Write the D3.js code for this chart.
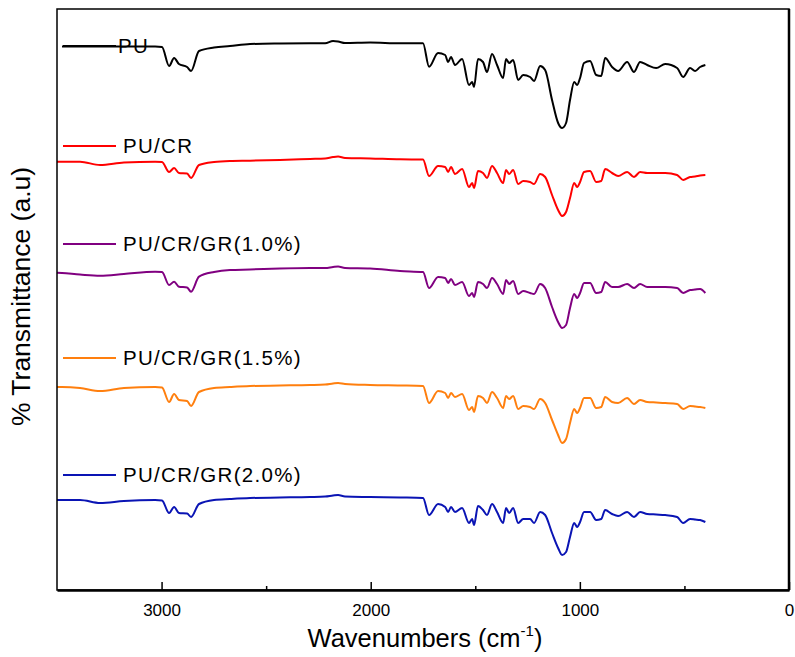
<!DOCTYPE html>
<html>
<head>
<meta charset="utf-8">
<script src="https://cdn.jsdelivr.net/npm/d3@7"></script>
<style>
  body { margin: 0; background: #fff; }
  text { font-family: "Liberation Sans", Arial, sans-serif; }
</style>
</head>
<body>
<script>
// wavenumbers shared by all spectra (cm-1)
var wavenumbers = [3500, 3476, 3390, 3294, 3180, 3031, 2998, 2964, 2940, 2917,
  2878, 2859, 2821, 2749, 2673, 2577, 2434, 2290, 2218, 2180,
  2156, 2123, 2003, 1860, 1750, 1721, 1678, 1644, 1630, 1616,
  1597, 1563, 1530, 1515, 1506, 1487, 1463, 1444, 1420, 1396,
  1367, 1353, 1338, 1319, 1295, 1271, 1238, 1219, 1190, 1166,
  1133, 1104, 1085, 1066, 1047, 1027, 1013, 999, 980, 951,
  922, 898, 879, 846, 817, 774, 741, 712, 678, 635,
  592, 535, 506, 473, 449, 425, 400];

// transmittance, arbitrary units (already stacked)
var pu = [null, 543.5, 543.5, 543.5, 543.5, 543.5, 543, 524, 532, 526,
  523, 519, 539, 542.5, 544, 546, 546.5, 546.7, 546.7, 549,
  548.5, 547, 547.5, 546.7, 546.7, 523.3, 537, 535, 528, 533,
  525, 531, 505, 508, 503, 531, 528, 518, 536, 525,
  512, 531, 527, 530, 510, 515, 513, 509, 524, 520,
  490, 467, 462, 467, 490, 508, 505, 512, 527, 529,
  515, 514, 532, 523, 519, 528, 518, 528, 525, 522,
  526, 522, 513, 522, 519, 523, 525];

var puCr = [428.3, 428.3, 428.3, 425, 427.5, 428.3, 428, 418, 422, 417,
  416.5, 412, 425, 428, 429, 429.3, 430, 431, 431.5, 433,
  433.5, 432, 431.5, 430.7, 430.5, 414, 424, 423, 418, 423,
  416, 421, 403, 407, 402, 419, 417, 412, 424, 417,
  407, 420, 416, 420, 406, 409, 408, 406, 416, 413,
  395, 380, 374, 378, 392, 407, 403, 408, 418, 419,
  408, 409, 421, 417, 414, 418, 413, 418, 417, 417,
  417, 415, 410, 413, 413.5, 414.5, 415];

var puCrGr10 = [317.3, 317, 315.5, 314.3, 316, 318.3, 318, 305, 308.3, 303.3,
  302.5, 298.3, 313.3, 318, 320, 320.5, 321.5, 322, 322, 323,
  323.5, 322, 321.5, 319, 318, 302, 313, 312, 307, 311,
  305, 308, 294, 297, 293, 308, 306, 302, 312, 306,
  296, 310, 306, 309, 296, 299, 297, 296, 306, 302,
  283, 268, 262, 265, 282, 296, 292, 297, 307, 307,
  297, 298, 308, 303, 303, 306, 302, 306, 303, 303,
  303, 302, 297, 300, 300.5, 301, 297];

var puCrGr15 = [203, 203, 202, 199, 202, 203, 202.5, 188, 196, 190,
  189, 184, 198, 202, 203, 204, 204.5, 205, 205.5, 206.5,
  207, 206, 205, 204.5, 204, 187, 199, 197, 192, 197,
  193, 196, 180, 183, 178, 194, 192, 187, 198, 192,
  182, 194, 191, 194, 181, 184, 183, 181, 191, 187,
  170, 155, 147, 151, 167, 181, 177, 182, 192, 192,
  182, 183, 193, 188, 187, 192, 186, 190, 188, 187.5,
  187, 186, 181, 184, 183.5, 183, 182];

var puCrGr20 = [90, 90, 90, 87, 89, 90, 89.5, 77, 83, 77,
  76.5, 73, 86, 90, 91, 92, 92.5, 93, 93.5, 94.5,
  95, 93.5, 93, 92.5, 92, 75, 86, 83, 78, 83,
  78, 82, 67, 71, 65, 84, 80, 75, 86, 78,
  67, 82, 77, 82, 67, 71, 71, 67, 78, 75,
  57, 42, 35, 38, 53, 67, 63, 68, 78, 78,
  70, 71, 80, 76, 74, 78, 73, 78, 76, 75.5,
  75, 73, 67, 71, 70.5, 70, 68];

var seriesNames = ['PU', 'PU/CR', 'PU/CR/GR(1.0%)', 'PU/CR/GR(1.5%)', 'PU/CR/GR(2.0%)'];
var seriesColors = ['#000000', '#ff0000', '#800080', '#ff7f0e', '#0a14b4'];
var seriesValues = [pu, puCr, puCrGr10, puCrGr15, puCrGr20];
// legend key sits at this transmittance level for each series
var legendLevels = [544, 444, 346, 232, 115];

var majorTicks = [3000, 2000, 1000, 0];
var minorTicks = [2500, 1500, 500];

var W = 795, H = 657;
var plotLeft = 57, plotRight = 789, plotTop = 9, plotBottom = 590;

var svg = d3.select('body').append('svg')
  .attr('width', W)
  .attr('height', H);

var x = d3.scaleLinear().domain([3500, 0]).range([plotLeft, plotRight]);
var y = d3.scaleLinear().domain([0, 581]).range([plotBottom, plotTop]);

// SPECTRA
var line = d3.line()
  .defined(function(d) { return d[1] != null; })
  .x(function(d) { return x(d[0]); })
  .y(function(d) { return y(d[1]); })
  .curve(d3.curveMonotoneX);

seriesValues.forEach(function(vals, i) {
  var pts = wavenumbers.map(function(w, j) { return [w, vals[j]]; });
  svg.append('path')
    .datum(pts)
    .attr('d', line)
    .attr('fill', 'none')
    .attr('stroke', seriesColors[i])
    .attr('stroke-width', 2)
    .attr('stroke-linejoin', 'round');
});

// LEGEND
seriesNames.forEach(function(name, i) {
  var ly = y(legendLevels[i]);
  svg.append('line')
    .attr('x1', 63)
    .attr('x2', 116)
    .attr('y1', ly)
    .attr('y2', ly)
    .attr('stroke', seriesColors[i])
    .attr('stroke-width', 2);
  svg.append('text')
    .attr('x', i == 0 ? 118 : 123)
    .attr('y', ly + 7)
    .attr('font-size', 20.5)
    .attr('letter-spacing', 1.3)
    .attr('fill', '#000')
    .text(name);
});

// FRAME
svg.append('rect')
  .attr('x', plotLeft)
  .attr('y', plotTop)
  .attr('width', plotRight - plotLeft)
  .attr('height', plotBottom - plotTop)
  .attr('fill', 'none')
  .attr('stroke', '#000')
  .attr('stroke-width', 1.5);

// X AXIS
var xAxis = d3.axisBottom(x)
  .tickValues(majorTicks)
  .tickSizeInner(-8)
  .tickSizeOuter(0)
  .tickPadding(14)
  .tickFormat(d3.format('d'));

var gx = svg.append('g')
  .attr('transform', 'translate(0,' + plotBottom + ')')
  .call(xAxis);
gx.select('.domain').attr('stroke-width', 2.5);
gx.selectAll('.tick line').attr('stroke-width', 1.5);
gx.selectAll('.tick text')
  .attr('font-size', 17)
  .attr('font-family', '"Liberation Sans", Arial, sans-serif')
  .attr('fill', '#000');

var gxMinor = svg.append('g')
  .attr('transform', 'translate(0,' + plotBottom + ')')
  .call(d3.axisBottom(x).tickValues(minorTicks).tickSizeInner(-4).tickSizeOuter(0).tickFormat(''));
gxMinor.select('.domain').remove();
gxMinor.selectAll('.tick line').attr('stroke-width', 1.5);

// right edge a bit heavier
svg.append('line')
  .attr('x1', plotRight).attr('x2', plotRight)
  .attr('y1', plotTop).attr('y2', plotBottom)
  .attr('stroke', '#000')
  .attr('stroke-width', 2.5);

// AXIS TITLES
var xt = svg.append('text')
  .attr('x', (plotLeft + plotRight) / 2 + 2)
  .attr('y', 647)
  .attr('text-anchor', 'middle')
  .attr('font-size', 25.5)
  .attr('fill', '#000');
xt.append('tspan').text('Wavenumbers (cm');
xt.append('tspan').attr('font-size', 15).attr('dy', -11).text('-1');
xt.append('tspan').attr('dy', 11).text(')');

svg.append('text')
  .attr('transform', 'translate(30,' + ((plotTop + plotBottom) / 2 - 3) + ') rotate(-90)')
  .attr('text-anchor', 'middle')
  .attr('font-size', 26.5)
  .attr('fill', '#000')
  .text('% Transmittance (a.u)');
</script>
</body>
</html>
